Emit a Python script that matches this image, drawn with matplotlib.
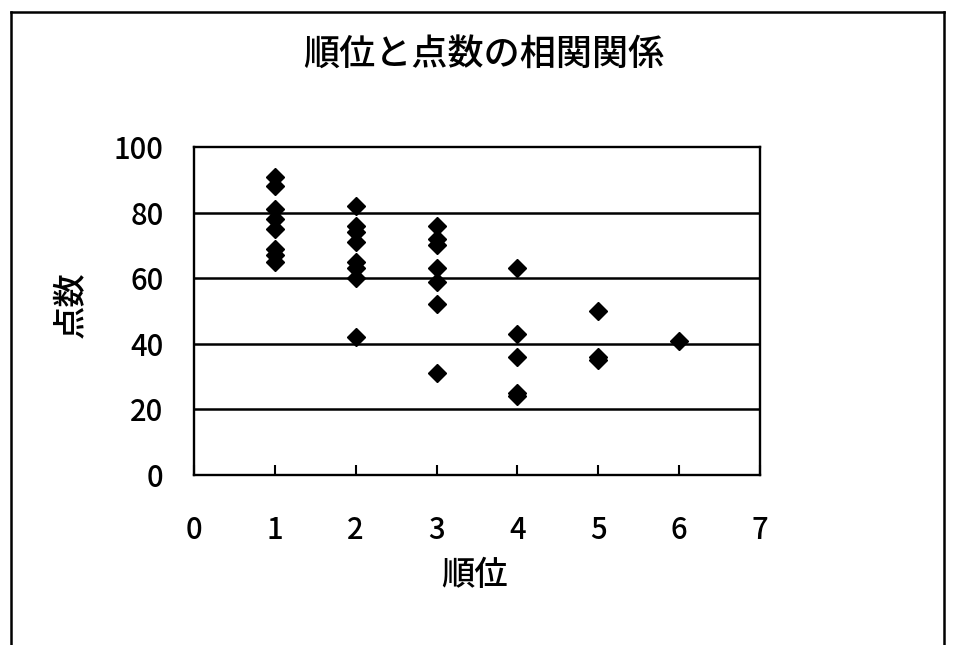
import matplotlib
matplotlib.use("Agg")
import matplotlib.pyplot as plt
from matplotlib.lines import Line2D

plt.rcParams['font.family'] = ['Noto Sans CJK JP', 'DejaVu Sans']

# Data
rank = [1, 1, 1, 1, 1, 1, 1, 1,
        2, 2, 2, 2, 2, 2, 2, 2,
        3, 3, 3, 3, 3, 3, 3,
        4, 4, 4, 4, 4,
        5, 5, 5,
        6]
score = [91, 88, 81, 78, 75, 69, 67, 65,
         82, 76, 74, 71, 65, 63, 60, 42,
         76, 72, 70, 63, 59, 52, 31,
         63, 43, 36, 25, 24,
         50, 36, 35,
         41]
x_ticks = [0, 1, 2, 3, 4, 5, 6, 7]
y_ticks = [0, 20, 40, 60, 80, 100]
title = "順位と点数の相関関係"
xlabel = "順位"
ylabel = "点数"

fig = plt.figure(figsize=(9.54, 6.45), dpi=100)
ax = fig.add_axes([0.2034, 0.2636, 0.5932, 0.5084])

ax.plot(rank, score, linestyle='none', marker='D', markersize=8.8,
        color='black', zorder=3)

ax.set_xlim(0, 7)
ax.set_ylim(0, 100)
ax.set_xticks(x_ticks)
ax.set_yticks(y_ticks)
ax.set_xticklabels([str(v) for v in x_ticks])
ax.set_yticklabels([str(v) for v in y_ticks])

for v in y_ticks[1:-1]:
    ax.axhline(v, color='black', linewidth=1.8, zorder=2)

for s in ax.spines.values():
    s.set_linewidth(1.7)
    s.set_color('black')

ax.tick_params(axis='x', direction='in', length=7, width=1.5, pad=29,
               labelsize=21, top=False)
ax.tick_params(axis='y', length=0, pad=22, labelsize=21)
for lbl in ax.get_xticklabels() + ax.get_yticklabels():
    lbl.set_fontweight('medium')

fig.text(0.507, 0.915, title, ha='center', va='center', fontsize=26,
         fontweight='medium')
fig.text(0.497, 0.108, xlabel, ha='center', va='center', fontsize=24,
         fontweight='medium')
fig.text(0.075, 0.527, ylabel, ha='center', va='center', fontsize=24,
         rotation=90, fontweight='medium')

# outer border (left, top, right)
lw = 1.8
fig.add_artist(Line2D([0.0115, 0.0115], [0.0, 0.981], color='black', lw=lw,
                      transform=fig.transFigure))
fig.add_artist(Line2D([0.0115, 0.989], [0.981, 0.981], color='black', lw=lw,
                      transform=fig.transFigure))
fig.add_artist(Line2D([0.989, 0.989], [0.0, 0.981], color='black', lw=lw,
                      transform=fig.transFigure))

fig.savefig("out.png", dpi=100, facecolor='white')
